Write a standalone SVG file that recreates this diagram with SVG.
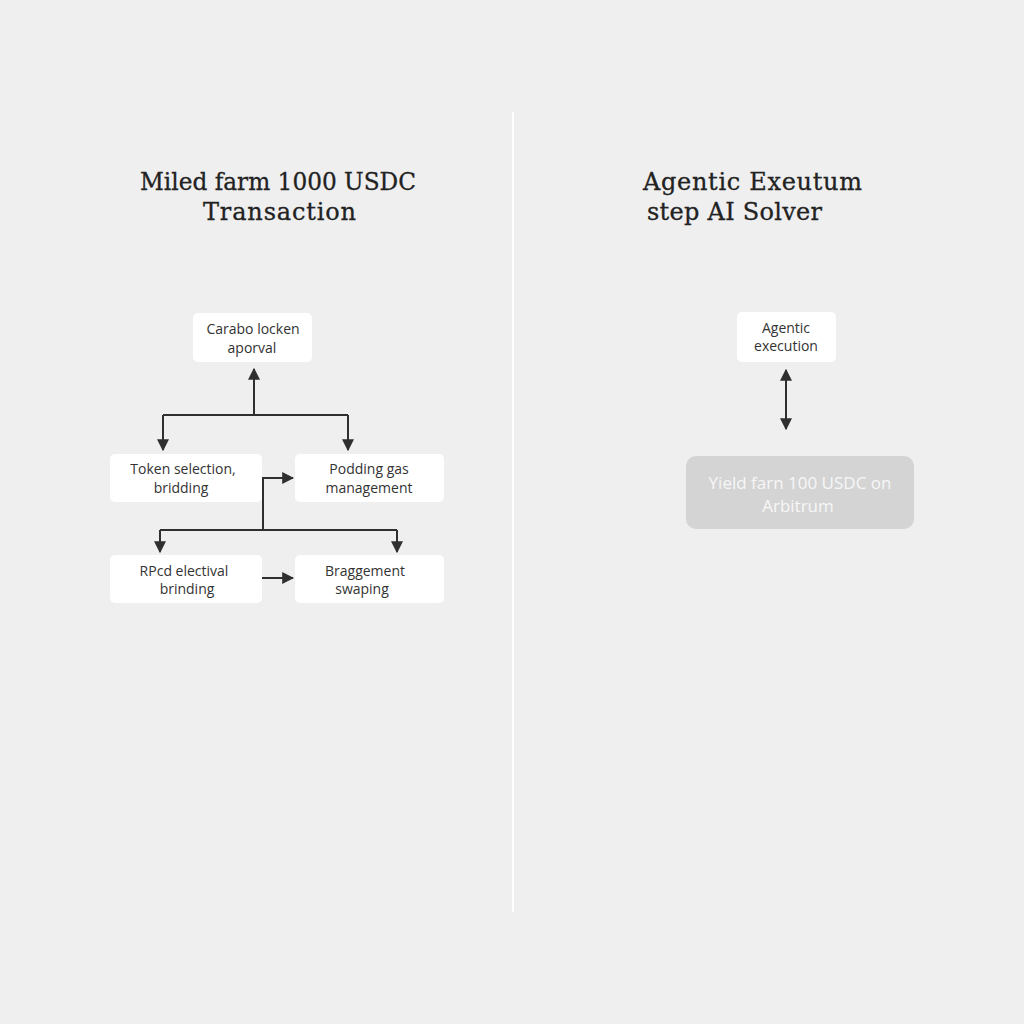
<svg xmlns="http://www.w3.org/2000/svg" width="1024" height="1024" viewBox="0 0 1024 1024">
<defs>
<marker id="ah" viewBox="0 0 10 10" refX="9" refY="5" markerWidth="6" markerHeight="6" orient="auto-start-reverse" markerUnits="strokeWidth">
<path d="M0,0 L10,5 L0,10 Z" fill="#2f2f2f"/>
</marker>
<style>
.title{font-family:"DejaVu Serif","Liberation Serif",serif;font-size:24px;fill:#222222;stroke:#222222;stroke-width:0.3;}
.box{fill:#ffffff;}
.lbl{font-family:"Open Sans","Noto Sans",sans-serif;font-size:14px;fill:#333333;text-anchor:middle;}
.glbl{font-family:"Open Sans","Noto Sans",sans-serif;font-size:17px;fill:#f7f7f7;text-anchor:middle;}
.c{stroke:#2f2f2f;stroke-width:2;fill:none;}
</style>
</defs>
<rect width="1024" height="1024" fill="#efefef"/>
<line x1="513" y1="112" x2="513" y2="912" stroke="#ffffff" stroke-width="2"/>
<g id="title-left">
<text class="title" x="140" y="190" textLength="276" lengthAdjust="spacingAndGlyphs">Miled farm 1000 USDC</text>
<text class="title" x="203" y="220" textLength="153" lengthAdjust="spacing">Transaction</text>
</g>
<g id="title-right">
<text class="title" x="643" y="190" textLength="219" lengthAdjust="spacing">Agentic Exeutum</text>
<text class="title" x="647" y="220" textLength="175" lengthAdjust="spacing">step AI Solver</text>
</g>
<g id="connectors">
<path class="c" d="M254,415 V369" marker-end="url(#ah)"/>
<path class="c" d="M163,415 H348"/>
<path class="c" d="M163,415 V450" marker-end="url(#ah)"/>
<path class="c" d="M348,415 V450" marker-end="url(#ah)"/>
<path class="c" d="M263,530 V478 H293" marker-end="url(#ah)"/>
<path class="c" d="M160,530 H397"/>
<path class="c" d="M160,530 V552" marker-end="url(#ah)"/>
<path class="c" d="M397,530 V552" marker-end="url(#ah)"/>
<path class="c" d="M262,578 H293" marker-end="url(#ah)"/>
<path class="c" d="M786,370 V429" marker-start="url(#ah)" marker-end="url(#ah)"/>
</g>
<g id="n1">
<rect class="box" x="193" y="313" width="119" height="49" rx="5"/>
<text class="lbl" x="253" y="334">Carabo locken</text>
<text class="lbl" x="252" y="353">aporval</text>
</g>
<g id="n2">
<rect class="box" x="110" y="454" width="152" height="48" rx="5"/>
<text class="lbl" x="183" y="474">Token selection,</text>
<text class="lbl" x="181" y="493">bridding</text>
</g>
<g id="n3">
<rect class="box" x="295" y="454" width="149" height="48" rx="5"/>
<text class="lbl" x="369" y="474">Podding gas</text>
<text class="lbl" x="369" y="493">management</text>
</g>
<g id="n4">
<rect class="box" x="110" y="555" width="152" height="48" rx="5"/>
<text class="lbl" x="184" y="576">RPcd electival</text>
<text class="lbl" x="187" y="594">brinding</text>
</g>
<g id="n5">
<rect class="box" x="295" y="555" width="149" height="48" rx="5"/>
<text class="lbl" x="365" y="576">Braggement</text>
<text class="lbl" x="362" y="594">swaping</text>
</g>
<g id="n6">
<rect class="box" x="737" y="312" width="99" height="50" rx="5"/>
<text class="lbl" x="786" y="333">Agentic</text>
<text class="lbl" x="786" y="351">execution</text>
</g>
<g id="n7">
<rect x="686" y="456" width="228" height="73" rx="10" fill="#d4d4d4"/>
<text class="glbl" x="800" y="489">Yield farn 100 USDC on</text>
<text class="glbl" x="798" y="512">Arbitrum</text>
</g>
</svg>
